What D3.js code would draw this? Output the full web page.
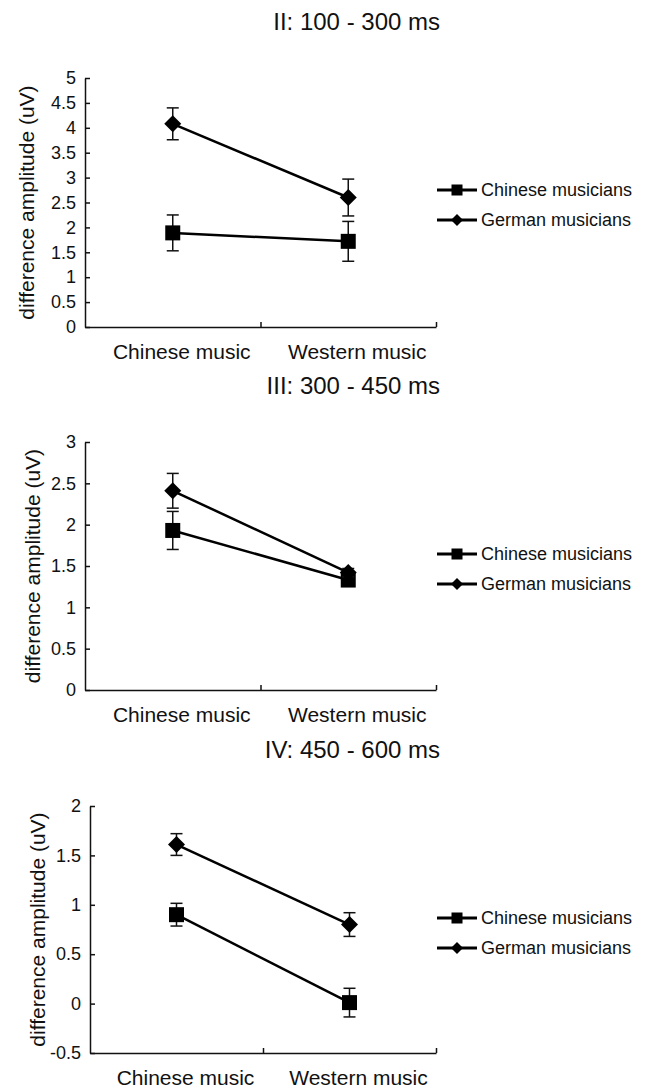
<!DOCTYPE html>
<html>
<head>
<meta charset="utf-8">
<script src="https://cdn.jsdelivr.net/npm/d3@7"></script>
<style>
  body { margin: 0; background: #fff; }
  svg { display: block; font-family: "Liberation Sans", Arial, sans-serif; }
  .tick text { font-size: 18px; fill: #111; }
</style>
</head>
<body>
<svg id="chart"></svg>
<script>
// data
var categories = ["Chinese music", "Western music"];
var groups = ["Chinese musicians", "German musicians"];
var panelTitles = ["II: 100 - 300 ms", "III: 300 - 450 ms", "IV: 450 - 600 ms"];

var chineseMeans = [[1.89, 1.72], [1.93, 1.33], [0.90, 0.01]];
var chineseErrs  = [[0.36, 0.40], [0.23, 0.05], [0.115, 0.145]];
var germanMeans  = [[4.08, 2.60], [2.41, 1.42], [1.61, 0.80]];
var germanErrs   = [[0.32, 0.37], [0.21, 0.05], [0.11, 0.12]];

var yDomains = [[0, 5], [0, 3], [-0.5, 2]];
var yTicks = [
  [0, 0.5, 1, 1.5, 2, 2.5, 3, 3.5, 4, 4.5, 5],
  [0, 0.5, 1, 1.5, 2, 2.5, 3],
  [-0.5, 0, 0.5, 1, 1.5, 2]
];
var yLabel = "difference amplitude (uV)";

// where each panel sits on the page
var panelBoxes = [
  {left: 85, right: 436, top: 78, bottom: 327},
  {left: 85, right: 436, top: 442, bottom: 690},
  {left: 90, right: 436, top: 806, bottom: 1053}
];

var svg = d3.select("#chart")
  .attr("width", 649)
  .attr("height", 1089);

svg.append("rect").attr("width", 649).attr("height", 1089).attr("fill", "#fff");

var drawMarker = function(sel, kind, size)
{
  if (kind == "square") {
    sel.append("rect")
      .attr("x", -size / 2).attr("y", -size / 2)
      .attr("width", size).attr("height", size)
      .attr("fill", "#000");
  } else {
    var h = size / 2;
    sel.append("path")
      .attr("d", "M0," + (-h) + "L" + h + ",0L0," + h + "L" + (-h) + ",0Z")
      .attr("fill", "#000");
  }
}

var drawPanel = function(i)
{
  var box = panelBoxes[i];
  var g = svg.append("g");

  var xScale = d3.scaleBand()
    .domain(categories)
    .range([box.left, box.right]);

  var yScale = d3.scaleLinear()
    .domain(yDomains[i])
    .range([box.bottom, box.top]);

  // y axis, ticks pointing inwards
  var yAxis = d3.axisLeft(yScale)
    .tickValues(yTicks[i])
    .tickFormat(function(d) { return String(d); })
    .tickSizeInner(-5)
    .tickSizeOuter(0)
    .tickPadding(9);
  var ya = g.append("g")
    .attr("transform", "translate(" + box.left + ",0)")
    .call(yAxis);
  ya.selectAll("path,line").attr("stroke", "#111").attr("stroke-width", 1.5);

  // x axis with ticks between categories
  var edge = d3.scaleLinear().domain([0, categories.length]).range([box.left, box.right]);
  var xAxis = d3.axisBottom(edge)
    .tickValues(d3.range(1, categories.length + 1))
    .tickFormat("")
    .tickSizeInner(-5)
    .tickSizeOuter(0);
  var xa = g.append("g")
    .attr("transform", "translate(0," + box.bottom + ")")
    .call(xAxis);
  xa.selectAll("path,line").attr("stroke", "#111").attr("stroke-width", 1.5);

  g.selectAll(".catLabel")
    .data(categories)
    .enter()
    .append("text")
    .attr("class", "catLabel")
    .attr("x", function(c) { return xScale(c) + xScale.bandwidth() / 2 + 9; })
    .attr("y", box.bottom + 32)
    .attr("text-anchor", "middle")
    .attr("font-size", 21)
    .attr("fill", "#111")
    .text(function(c) { return c; });

  // y label
  g.append("text")
    .attr("transform", "translate(" + (box.left - 52 - (i == 2 ? 0 : (i == 1 ? 0 : 6))) + "," + ((box.top + box.bottom) / 2) + ") rotate(-90)")
    .attr("text-anchor", "middle")
    .attr("dy", "0.35em")
    .attr("font-size", 21)
    .attr("fill", "#111")
    .text(yLabel);

  // title
  g.append("text")
    .attr("x", 440)
    .attr("y", box.top - 48)
    .attr("text-anchor", "end")
    .attr("font-size", 24)
    .attr("fill", "#111")
    .text(panelTitles[i]);

  var series = [
    {name: groups[0], means: chineseMeans[i], errs: chineseErrs[i], kind: "square", size: 15},
    {name: groups[1], means: germanMeans[i], errs: germanErrs[i], kind: "diamond", size: 17}
  ];

  series.forEach(function(s) {
    var pts = categories.map(function(c, j) {
      return {x: xScale(c) + xScale.bandwidth() / 2, v: s.means[j], e: s.errs[j]};
    });

    // error bars
    var eb = g.append("g").selectAll("g")
      .data(pts)
      .enter()
      .append("g");
    eb.append("line")
      .attr("x1", function(p) { return p.x; })
      .attr("x2", function(p) { return p.x; })
      .attr("y1", function(p) { return yScale(p.v - p.e); })
      .attr("y2", function(p) { return yScale(p.v + p.e); })
      .attr("stroke", "#111").attr("stroke-width", 1.5);
    [-1, 1].forEach(function(sign) {
      eb.append("line")
        .attr("x1", function(p) { return p.x - 6; })
        .attr("x2", function(p) { return p.x + 6; })
        .attr("y1", function(p) { return yScale(p.v + sign * p.e); })
        .attr("y2", function(p) { return yScale(p.v + sign * p.e); })
        .attr("stroke", "#111").attr("stroke-width", 1.5);
    });

    g.append("path")
      .datum(pts)
      .attr("d", d3.line().x(function(p) { return p.x; }).y(function(p) { return yScale(p.v); }))
      .attr("fill", "none")
      .attr("stroke", "#000")
      .attr("stroke-width", 2.5);

    g.append("g").selectAll("g")
      .data(pts)
      .enter()
      .append("g")
      .attr("transform", function(p) { return "translate(" + p.x + "," + yScale(p.v) + ")"; })
      .each(function() { drawMarker(d3.select(this), s.kind, s.size); });
  });

  // legend
  var legend = g.append("g");
  series.forEach(function(s, k) {
    var y = box.top + 112 + k * 30;
    legend.append("line")
      .attr("x1", 437).attr("x2", 477)
      .attr("y1", y).attr("y2", y)
      .attr("stroke", "#000").attr("stroke-width", 3);
    var m = legend.append("g").attr("transform", "translate(457," + y + ")");
    drawMarker(m, s.kind, s.kind == "square" ? 11 : 12);
    legend.append("text")
      .attr("x", 481).attr("y", y)
      .attr("dy", "0.35em")
      .attr("font-size", 18)
      .attr("fill", "#111")
      .text(s.name);
  });
}

for (var i = 0; i < panelTitles.length; i++) {
  drawPanel(i);
}
</script>
</body>
</html>
